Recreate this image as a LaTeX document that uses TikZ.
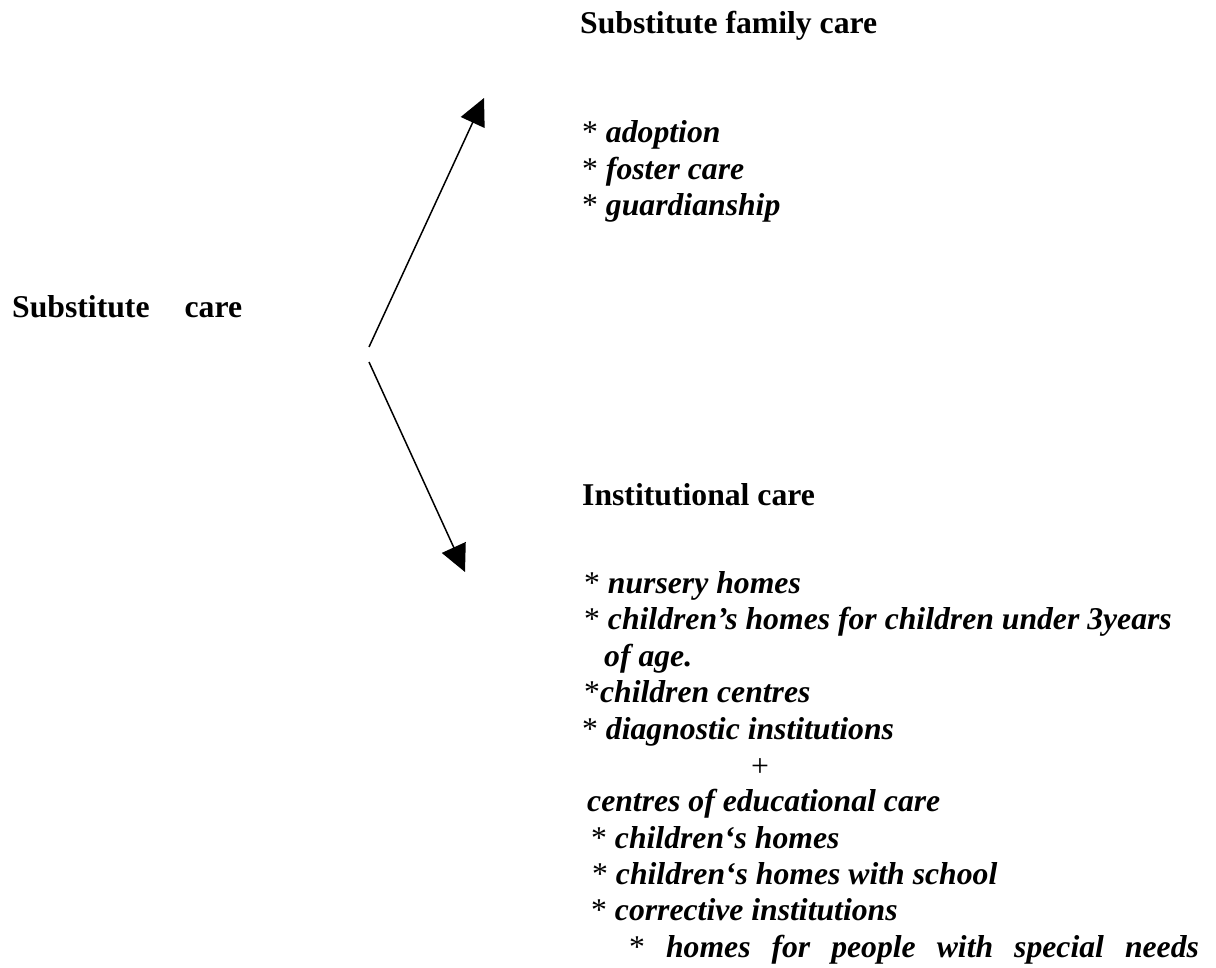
\documentclass[tikz,border=0pt]{standalone}
\usepackage{fontspec}
\setmainfont{Liberation Serif}
\usepackage{tikz}
\usetikzlibrary{arrows.meta}
\newcommand{\docsize}{\fontsize{31.7pt}{36.3pt}\selectfont}
\newcommand{\itemstar}{{\normalfont\docsize *}}
\tikzset{
  headText/.style={anchor=base west, inner sep=0pt, font=\docsize\bfseries},
  itemText/.style={anchor=base west, inner sep=0pt, font=\docsize\bfseries\itshape},
  forkArrow/.style={-{Triangle[length=27pt,width=26pt]}, line width=1.5pt}
}

\begin{document}
\begin{tikzpicture}[x=1pt,y=-1pt]
  \useasboundingbox (0,0) rectangle (1216,968);
  \node[headText] (subcare) at (12,318) {Substitute\hspace{35pt}care};
  \node[headText] (famhead) at (580,34) {Substitute family care};
  \node[itemText] (adoption) at (582,143) {\itemstar{} adoption};
  \node[itemText] (foster) at (582,180) {\itemstar{} foster care};
  \node[itemText] (guardian) at (582,216) {\itemstar{} guardianship};
  \node[headText] (insthead) at (582,505) {Institutional care};
  \node[itemText] (nursery) at (584,593) {\itemstar{} nursery homes};
  \node[itemText] (under3) at (584,629) {\itemstar{} children’s homes for children under 3years};
  \node[itemText] (ofage) at (604,666) {of age.};
  \node[itemText] (centres) at (584,702) {\itemstar children centres};
  \node[itemText] (diagnostic) at (582,739) {\itemstar{} diagnostic institutions};
  \node[anchor=base, inner sep=0pt, font=\docsize] (plus) at (760,776) {+};
  \node[itemText] (educare) at (587,811) {centres of educational care};
  \node[itemText] (chhomes) at (591,848) {\itemstar{} children‘s homes};
  \node[itemText] (chschool) at (592,884) {\itemstar{} children‘s homes with school};
  \node[itemText] (corrective) at (591,920) {\itemstar{} corrective institutions};
  \node[itemText] (special) at (629,957) {\spaceskip=21pt \itemstar{} homes for people with special needs};
  \coordinate (forktop) at (369,347);
  \coordinate (forkbot) at (369,362);
  \coordinate (famtip) at (484,98);
  \coordinate (insttip) at (465,572);
  \draw[forkArrow] (forktop) -- (famtip);
  \draw[forkArrow] (forkbot) -- (insttip);
\end{tikzpicture}
\end{document}
